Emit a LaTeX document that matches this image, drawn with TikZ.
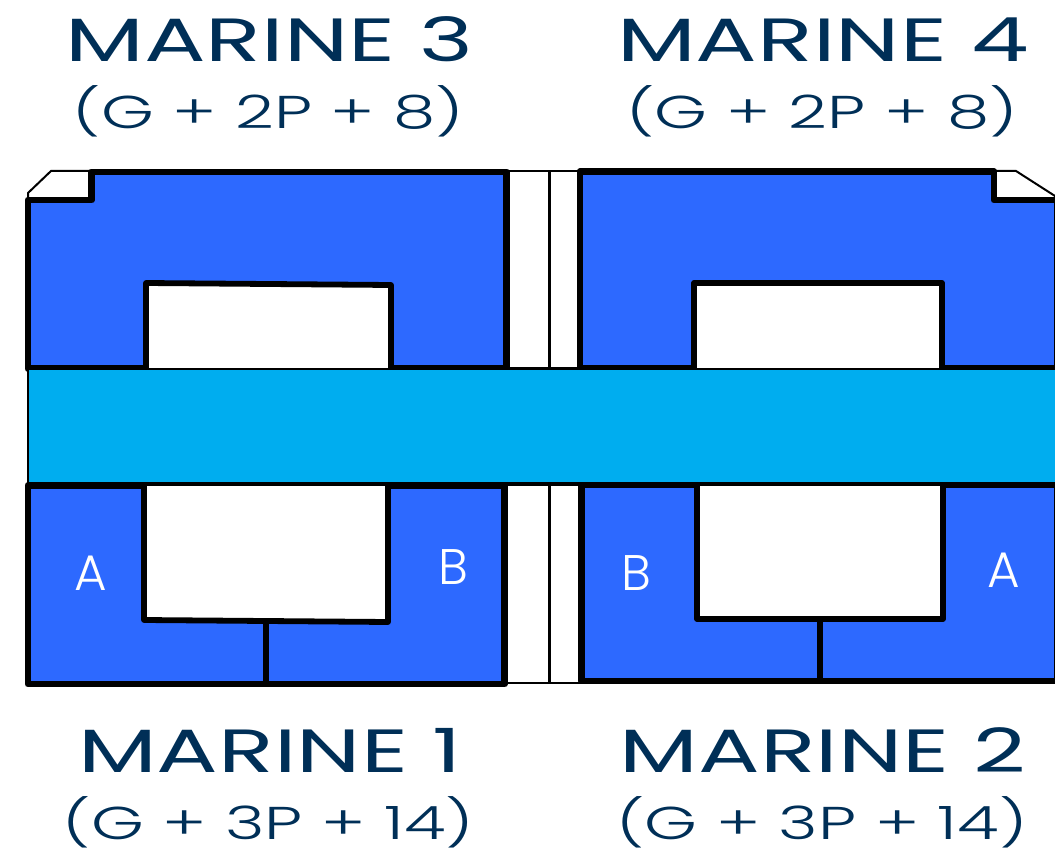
\documentclass[tikz,border=0pt]{standalone}
\usepackage{fontspec}
\setmainfont{Liberation Sans}
\newfontfamily\widefont[FakeStretch=1.5]{Poppins}
\newfontfamily\subfont[FakeStretch=1.47]{Poppins Light}
\newfontfamily\tagfont{Poppins Light}
\definecolor{blk}{HTML}{2D69FF}
\definecolor{chan}{HTML}{00ADEF}
\definecolor{navy}{HTML}{002F57}
\tikzset{
  x=1pt,y=-1pt,
  thick outline/.style={draw=black,line width=6.8pt,line join=round,fill=blk},
  thin outline/.style={draw=black,line width=2pt,line join=miter},
  hole/.style={draw=black,line width=5.8pt,fill=white,line join=round},
  divline/.style={draw=black,line width=5.5pt},
  title/.style={text=navy,font=\widefont\fontsize{61}{61}\selectfont,inner sep=0pt,anchor=base},
  subtitle/.style={text=navy,font=\subfont\fontsize{46}{46}\selectfont,inner sep=0pt,anchor=base},
  tag/.style={text=white,font=\tagfont\fontsize{50}{50}\selectfont,inner sep=0pt,anchor=base},
}
\begin{document}
\begin{tikzpicture}
\useasboundingbox (0,0) rectangle (1055,853);
% notches and corridor cells
\draw[thin outline,fill=white] (28,193) -- (51,171) -- (92,171) -- (92,200) -- (28,200) -- cycle;
\draw[thin outline,fill=white] (994,171) -- (1016,171) -- (1055,196) -- (1055,200) -- (994,200) -- cycle;
\draw[thin outline,fill=white] (506,171) rectangle (580,368);
\draw[thin outline,fill=white] (506,485) rectangle (580,683);
\draw[draw=black,line width=3pt] (549,171) -- (549,368);
\draw[draw=black,line width=3pt] (549,485) -- (549,683);
% upper blocks
\path[thick outline] (506.5,368.5) -- (28,368.5) -- (28,200) -- (91.5,200) -- (91.5,172) -- (506.5,172) -- cycle;
\path[thick outline] (580,368.5) -- (580,171.5) -- (994,171.5) -- (994,200) -- (1058,200) -- (1058,368.5) -- cycle;
\path[hole] (146,371) -- (146,283) -- (391,285) -- (391,371) -- cycle;
\path[hole] (694,371) -- (694,283) -- (942,283) -- (942,371) -- cycle;
% lower blocks
\path[thick outline] (504.5,485.5) -- (28,485.5) -- (28,684) -- (504.5,684) -- cycle;
\path[thick outline] (581.5,484.5) -- (581.5,681) -- (1058,681) -- (1058,484.5) -- cycle;
\path[hole] (144,483) -- (144,620) -- (388,622) -- (388,483) -- cycle;
\path[hole] (697,483) -- (697,619) -- (943,619) -- (943,483) -- cycle;
\draw[divline] (266,620) -- (266,684);
\draw[divline] (820,619) -- (820,681);
% channel
\path[fill=chan,draw=black,line width=1.5pt] (28,369.5) rectangle (1058,483);
% right edge
\draw[draw=black,line width=1pt] (1054.5,200) -- (1054.5,368);
\draw[draw=black,line width=1pt] (1054.5,484) -- (1054.5,681);
% labels
\node[title] (m3) at (269.5,62) {MARINE 3};
\node[subtitle] (s3) at (268.5,129) {(G + 2P + 8)};
\node[title] (m4) at (823,62) {MARINE 4};
\node[subtitle] (s4) at (822,129) {(G + 2P + 8)};
\node[title] (m1) at (270,772) {MARINE 1};
\node[subtitle] (s1) at (268.5,839) {(G + 3P + 14)};
\node[title] (m2) at (823,772) {MARINE 2};
\node[subtitle] (s2) at (822,839) {(G + 3P + 14)};
\node[tag] (a1) at (91,590) {A};
\node[tag] (b1) at (453,584) {B};
\node[tag] (b2) at (636,590) {B};
\node[tag] (a2) at (1004,587) {A};
\end{tikzpicture}
\end{document}
